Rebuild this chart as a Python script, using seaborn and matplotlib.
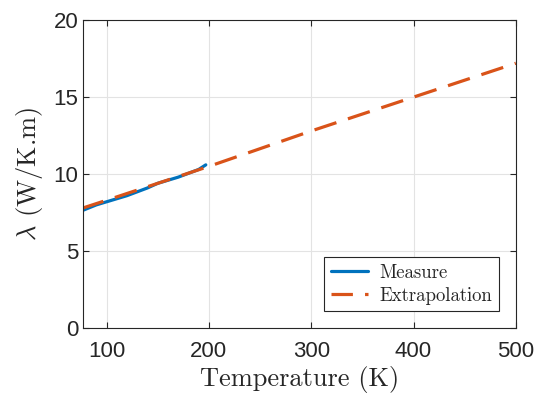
import numpy as np
import pandas as pd
import matplotlib
matplotlib.use("Agg")
import matplotlib.pyplot as plt
import seaborn as sns

# valeurs
temp_mesure = [77, 90, 100, 110, 120, 130, 140, 150, 160, 170, 180, 190, 197]
lambda_mesure = [7.65, 8.0, 8.2, 8.4, 8.6, 8.85, 9.1, 9.4, 9.6, 9.8, 10.05, 10.3, 10.6]

temp_extra = [77, 100, 150, 200, 250, 300, 350, 400, 450, 500]
lambda_extra = [7.8, 8.3, 9.4, 10.5, 11.65, 12.8, 13.9, 15.0, 16.1, 17.2]

sns.set_style("ticks")
plt.rcParams["mathtext.fontset"] = "cm"
plt.rcParams["font.family"] = ["Liberation Sans", "DejaVu Sans"]

df_m = pd.DataFrame({"T": temp_mesure, "L": lambda_mesure})
df_e = pd.DataFrame({"T": temp_extra, "L": lambda_extra})

fig = plt.figure(figsize=(5.39, 4.03), dpi=100)
ax = fig.add_axes([0.154, 0.186, 0.803, 0.764])

sns.lineplot(data=df_m, x="T", y="L", ax=ax, color="#0072BD", linewidth=2.3,
             label="Measure")
sns.lineplot(data=df_e, x="T", y="L", ax=ax, color="#D95319", linewidth=2.3,
             linestyle=(0.5, (7.2, 3.8)), label="Extrapolation")

ax.set_xlim(77, 500)
ax.set_ylim(0, 20)
ax.set_xticks([100, 200, 300, 400, 500])
ax.set_yticks([0, 5, 10, 15, 20])
ax.grid(True, color="#e3e3e3", linewidth=0.8)
ax.tick_params(direction="in", length=4, width=0.8, labelsize=16, top=True, right=True,
               colors="#262626", labelcolor="#262626")
ax.tick_params(axis="x", pad=9)
for s in ax.spines.values():
    s.set_linewidth(0.8)
    s.set_color("#262626")

ax.set_xlabel("Temperature (K)", fontsize=19, labelpad=3, fontfamily="cmr10")
ax.set_ylabel(r"$\lambda$ (W/K.m)", fontsize=19, labelpad=6, fontfamily="cmr10")

leg = ax.legend(loc="lower right", fontsize=13.5, frameon=True, fancybox=False,
                edgecolor="#262626", framealpha=1, handlelength=2.0,
                borderaxespad=0.9, labelspacing=0.25, borderpad=0.35,
                handletextpad=0.6, prop={"family": "cmr10", "size": 13.5})
leg.get_frame().set_linewidth(0.8)

fig.savefig("out.png", dpi=100)
